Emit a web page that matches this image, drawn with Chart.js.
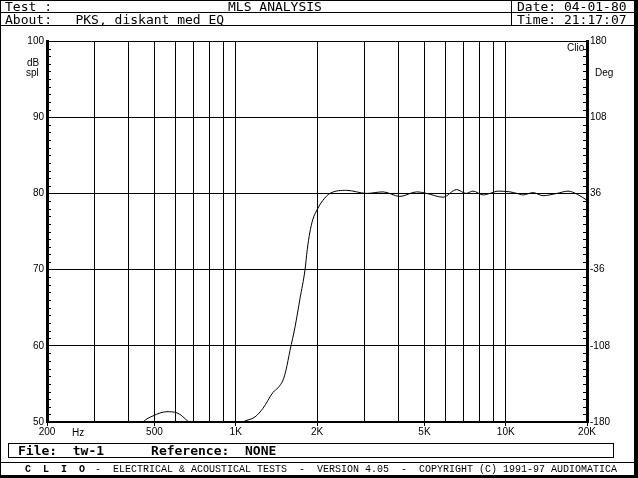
<!DOCTYPE html>
<html>
<head>
<meta charset="utf-8">
<script src="https://cdn.jsdelivr.net/npm/chart.js@4.4.1/dist/chart.umd.min.js"></script>
<style>
body { margin: 0; background: #fff; }
#wrap { position: relative; width: 638px; height: 478px; overflow: hidden; background: #fff; }
#chart { position: absolute; left: 0; top: 0; }
.t { position: absolute; font-family: "DejaVu Sans Mono", monospace; font-size: 13px; line-height: 13px; color: #000; white-space: pre; }
.s { position: absolute; font-family: "Liberation Sans", sans-serif; font-size: 10px; line-height: 10px; color: #000; white-space: pre; }
.f { position: absolute; font-family: "Liberation Mono", monospace; font-size: 10px; line-height: 10px; color: #000; white-space: pre; }
.hl { position: absolute; background: #000; }
</style>
</head>
<body>
<div id="wrap">
    <canvas id="chart" width="638" height="478"></canvas>

    <!-- frame -->
    <div class="hl" style="left:0;top:0;width:638px;height:1px"></div>
    <div class="hl" style="left:0;top:0;width:1px;height:478px"></div>
    <div class="hl" style="left:634px;top:0;width:4px;height:478px"></div>
    <div class="hl" style="left:0;top:475px;width:638px;height:3px"></div>

    <!-- header -->
    <div class="hl" style="left:0;top:12px;width:634px;height:1px"></div>
    <div class="hl" style="left:0;top:25px;width:634px;height:1px"></div>
    <div class="hl" style="left:511px;top:0;width:1px;height:26px"></div>
    <div class="t" style="left:5px;top:0px">Test :</div>
    <div class="t" style="left:228px;top:0px">MLS ANALYSIS</div>
    <div class="t" style="left:517px;top:0px">Date: 04-01-80</div>
    <div class="t" style="left:5px;top:13px">About:   PKS, diskant med EQ</div>
    <div class="t" style="left:517px;top:13px">Time: 21:17:07</div>

    <!-- axis names -->
    <div class="s" style="left:27px;top:58px">dB</div>
    <div class="s" style="left:26px;top:68px">spl</div>
    <div class="s" style="left:567px;top:43px">Clio</div>
    <div class="s" style="left:595px;top:68px">Deg</div>
    <div class="s" style="left:72px;top:428px">Hz</div>

    <!-- footer -->
    <div style="position:absolute;left:8px;top:443px;width:604px;height:13px;border:1px solid #000"></div>
    <div class="t" style="left:18px;top:444px;font-weight:bold">File:  tw-1      Reference:  NONE</div>
    <div class="hl" style="left:0;top:462px;width:634px;height:1px"></div>
    <div class="f" style="left:25px;top:465px;font-weight:bold">C  L  I  O</div>
    <div class="f" style="left:95px;top:465px">-  ELECTRICAL &amp; ACOUSTICAL TESTS  -  VERSION 4.05  -  COPYRIGHT (C) 1991-97 AUDIOMATICA</div>
</div>

<script>
// frequency (Hz) and level (dB spl)
const freqs = [200, 300, 400, 454, 494, 556, 606, 670, 750, 900, 1064, 1178, 1262, 1375, 1435, 1497,
    1535, 1589, 1659, 1730, 1806, 1840, 1880, 1927, 2012, 2104, 2233, 2577, 3055, 3511, 4057, 4677,
    5093, 5857, 6580, 7126, 7568, 8247, 8752, 9360, 10370, 11000, 11590, 12620, 13740, 15480, 17010,
    18380, 20000];
const spl = [44, 45, 47, 50, 50.8, 51.35, 51.2, 50, 48.5, 48, 50, 50.66, 51.8, 53.9, 54.5, 55.5,
    56.8, 59.4, 62.5, 66.2, 70, 72.6, 74.8, 76.5, 78, 79.1, 80, 80.4, 80, 80.2, 79.6, 80.2,
    80, 79.5, 80.5, 80, 80.3, 79.8, 80, 80.3, 80.2, 80, 79.8, 80.1, 79.7, 80, 80.3,
    79.9, 79.1];

// vertical grid lines and which of them carry a label
const gridFreqs = [200, 300, 400, 500, 600, 700, 800, 900, 1000, 2000, 3000, 4000, 5000,
    6000, 7000, 8000, 9000, 10000, 20000];
const freqLabels = { 200: '200', 500: '500', 1000: '1K', 2000: '2K', 5000: '5K', 10000: '10K', 20000: '20K' };

const splMin = 50, splMax = 100, splStep = 10;
const degMin = -180, degMax = 180, degStep = 72;

const tickFont = { family: 'Liberation Sans', size: 10 };

// little inner ticks every dB on both vertical axes
const minorTicks = {
    id: 'minorTicks',
    afterDraw(chart) {
        const ctx = chart.ctx, y = chart.scales.y, a = chart.chartArea;
        ctx.save();
        ctx.strokeStyle = '#000';
        ctx.lineWidth = 1;
        ctx.beginPath();
        for (let v = splMin + 1; v < splMax; v++) {
            if (v % splStep === 0) continue;
            const py = Math.round(y.getPixelForValue(v)) + 0.5;
            ctx.moveTo(a.left + 1, py); ctx.lineTo(a.left + 4, py);
            ctx.moveTo(a.right - 4, py); ctx.lineTo(a.right - 1, py);
        }
        ctx.stroke();
        ctx.restore();
    }
};

new Chart(document.getElementById('chart'), {
    type: 'scatter',
    data: {
        datasets: [{
            data: freqs.map((f, i) => ({ x: f, y: spl[i] })),
            showLine: true,
            borderColor: '#000',
            borderWidth: 1,
            pointRadius: 0,
            cubicInterpolationMode: 'monotone'
        }]
    },
    options: {
        responsive: false,
        animation: false,
        layout: { padding: { top: 41, left: 0, right: 0, bottom: 0 } },
        plugins: { legend: { display: false }, tooltip: { enabled: false } },
        scales: {
            x: {
                type: 'logarithmic',
                min: 200,
                max: 20000,
                afterBuildTicks: s => { s.ticks = gridFreqs.map(v => ({ value: v })); },
                afterFit: s => { s.height = 56; },
                grid: {
                    color: '#000',
                    lineWidth: 1,
                    tickLength: 4,
                    tickColor: c => (c.tick && freqLabels[c.tick.value]) ? '#000' : 'rgba(0,0,0,0)'
                },
                border: { color: '#000', width: 2 },
                ticks: {
                    autoSkip: false,
                    maxRotation: 0,
                    padding: 0,
                    color: '#000',
                    font: tickFont,
                    callback: v => freqLabels[v] || ''
                }
            },
            y: {
                position: 'left',
                min: splMin,
                max: splMax,
                afterFit: s => { s.width = 47; },
                grid: { color: '#000', lineWidth: 1, drawTicks: false },
                border: { color: '#000', width: 3 },
                ticks: { stepSize: splStep, padding: 3, color: '#000', font: tickFont }
            },
            y1: {
                position: 'right',
                min: degMin,
                max: degMax,
                afterFit: s => { s.width = 51; },
                grid: { drawOnChartArea: false, drawTicks: false },
                border: { color: '#000', width: 3 },
                ticks: { stepSize: degStep, padding: 3, color: '#000', font: tickFont }
            }
        }
    },
    plugins: [minorTicks]
});
</script>
</body>
</html>
